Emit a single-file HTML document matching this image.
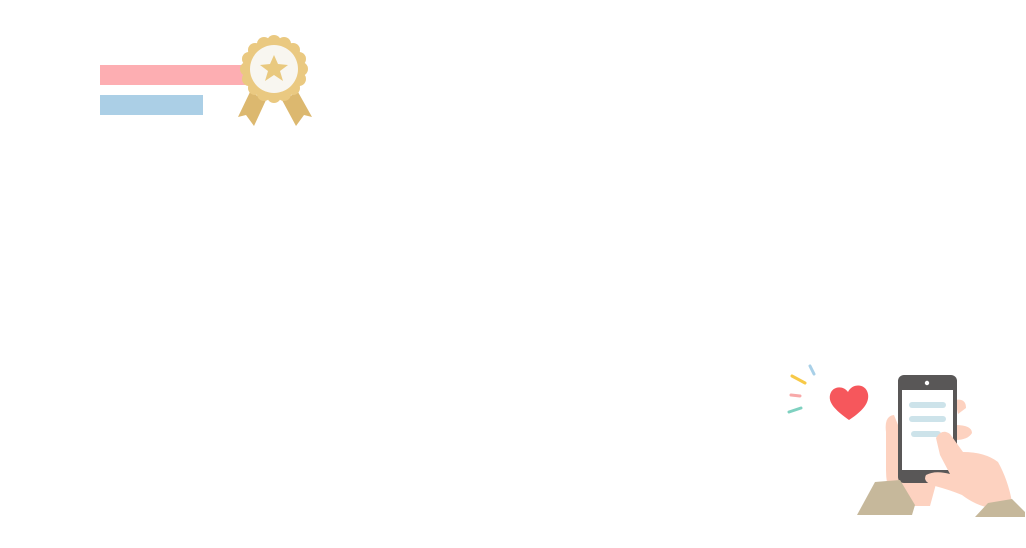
<!DOCTYPE html>
<html><head><meta charset="utf-8"><style>html,body{margin:0;padding:0;background:#fff;}svg{display:block}</style></head>
<body>
<svg width="1026" height="548" viewBox="0 0 1026 548" xmlns="http://www.w3.org/2000/svg">
<rect x="100" y="65" width="145" height="20" fill="#fdaeb2"/>
<rect x="100" y="95" width="103" height="20" fill="#abcfe6"/>
<polygon points="250,92 266,100 254,126 246,115 238,117" fill="#dcb86f"/>
<polygon points="282,100 298,92 312,117 304,115 296,126" fill="#dcb86f"/>
<g fill="#eac981">
<circle cx="274" cy="69" r="31"/>
<circle cx="274" cy="42" r="7"/><circle cx="274" cy="96" r="7"/>
<circle cx="247" cy="69" r="7"/><circle cx="301" cy="69" r="7"/>
<circle cx="255" cy="50" r="7"/><circle cx="293" cy="50" r="7"/>
<circle cx="255" cy="88" r="7"/><circle cx="293" cy="88" r="7"/>
<circle cx="264" cy="44" r="7"/><circle cx="284" cy="44" r="7"/>
<circle cx="264" cy="94" r="7"/><circle cx="284" cy="94" r="7"/>
<circle cx="249" cy="59" r="7"/><circle cx="299" cy="59" r="7"/>
<circle cx="249" cy="79" r="7"/><circle cx="299" cy="79" r="7"/>
</g>
<circle cx="274" cy="69" r="24" fill="#f8f6f0"/>
<polygon points="274,55 278,64 288,65 280,71 283,81 274,75 265,81 268,71 260,65 270,64" fill="#e9c97f"/>

<g stroke-linecap="round" stroke-width="3">
<line x1="792" y1="376" x2="805" y2="383" stroke="#f7c948"/>
<line x1="810" y1="366" x2="814" y2="374" stroke="#a9d0e8"/>
<line x1="791" y1="395" x2="800" y2="396" stroke="#f8a9a9"/>
<line x1="789" y1="412" x2="801" y2="408" stroke="#7fd1c0"/>
</g>
<path d="M849,420 C838,412 828,404 830,395 C832,386 843,385 848,392 C852,383 866,383 868,394 C870,405 858,414 849,420 Z" fill="#f6575c"/>

<path d="M894,415 Q884,416 886,432 L886,470 Q886,496 900,506 L930,506 L936,484 L905,480 L900,430 Z" fill="#fdd2c0"/>
<path d="M955,400 Q966,398 966,408 L958,414 Z M955,425 Q972,425 972,433 Q968,440 955,440 Z" fill="#fdd2c0"/>
<rect x="898" y="375" width="59" height="108" rx="6" fill="#595757"/>
<rect x="902" y="390" width="51" height="80" fill="#fff"/>
<circle cx="927" cy="383" r="2.2" fill="#fff"/>
<g fill="#cde3ea">
<rect x="909" y="402" width="37" height="6" rx="3"/>
<rect x="909" y="416" width="37" height="6" rx="3"/>
<rect x="911" y="431" width="30" height="6" rx="3"/>
</g>
<path d="M936,438 Q942,428 950,434 L963,452 Q985,452 998,462 Q1008,480 1012,502 L990,508 Q975,505 962,495 Q950,490 935,486 Q922,482 926,475 Q935,470 950,474 L940,455 Z" fill="#fdd2c0"/>
<polygon points="857,515 875,482 900,480 915,505 912,515" fill="#c6b89b"/>
<polygon points="975,517 988,503 1012,499 1025,512 1025,517" fill="#c6b89b"/>
</svg>
</body></html>
